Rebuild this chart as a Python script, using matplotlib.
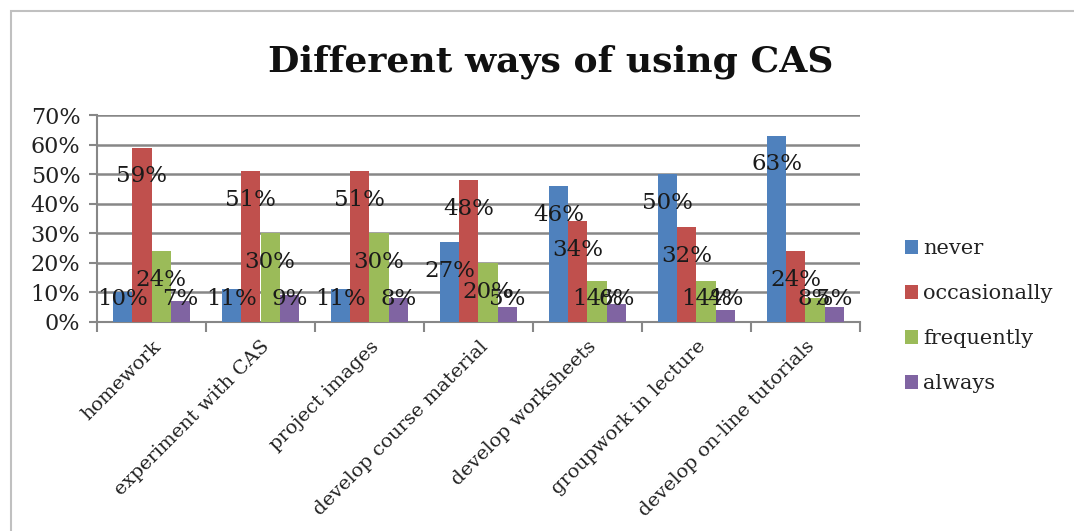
import numpy as np
import matplotlib
matplotlib.use('Agg')
from matplotlib import pyplot as plt
from matplotlib.patches import Rectangle

# data (percent)
categories = ['homework', 'experiment with CAS', 'project images',
              'develop course material', 'develop worksheets',
              'groupwork in lecture', 'develop on-line tutorials']
series = ['never', 'occasionally', 'frequently', 'always']
never = [10, 11, 11, 27, 46, 50, 63]
occasionally = [59, 51, 51, 48, 34, 32, 24]
frequently = [24, 30, 30, 20, 14, 14, 8]
always = [7, 9, 8, 5, 6, 4, 5]
yticks = [0, 10, 20, 30, 40, 50, 60, 70]

colors = ['#4F81BD', '#C0504D', '#9BBB59', '#8064A2']
plt.rcParams['font.family'] = ['DejaVu Serif']

fig = plt.figure(figsize=(10.74, 5.31), dpi=100)
fig.patches.append(Rectangle((11 / 1074, -0.05), 1.1, 1 - 11 / 531 + 0.05,
                             transform=fig.transFigure, fill=False,
                             edgecolor='#c0c0c0', linewidth=1.5))

ax = fig.add_axes([97 / 1074, 1 - 322 / 531, 763 / 1074, 207 / 531])

x = np.arange(len(categories))
w = 0.177
for i, (name, vals) in enumerate(zip(series, [never, occasionally, frequently, always])):
    pos = x + (i - 1.5) * w
    ax.bar(pos, vals, width=w, color=colors[i], label=name, zorder=3)
    # labels sit about 10 points under the bar top, but never below ~8%
    for p, v in zip(pos, vals):
        ax.text(p, max(v - 9.7, 7.7), '%d%%' % v, ha='center', va='center',
                fontsize=16.5, color='#1a1a1a', zorder=4)

ax.set_xlim(-0.5, len(categories) - 0.5)
ax.set_ylim(0, 70)
ax.set_yticks(yticks)
ax.set_yticklabels(['%d%%' % t for t in yticks], fontsize=16, color='#222222')
ax.set_xticks(x)
ax.set_xticklabels(categories, rotation=45, ha='right', rotation_mode='anchor',
                   fontsize=14, color='#222222')
ax.set_xticks(np.arange(len(categories) + 1) - 0.5, minor=True)
ax.tick_params(axis='x', which='major', length=0, pad=11)
ax.tick_params(axis='x', which='minor', length=7, color='#878787', width=1.5)
ax.tick_params(axis='y', length=6, color='#878787', width=1.5, pad=6)

ax.yaxis.grid(True, color='#878787', linewidth=1.8, zorder=0)
ax.set_axisbelow(True)
for s in ['top', 'right']:
    ax.spines[s].set_visible(False)
for s in ['left', 'bottom']:
    ax.spines[s].set_color('#878787')
    ax.spines[s].set_linewidth(1.5)

fig.text(551 / 1074, 1 - 62 / 531, 'Different ways of using CAS', ha='center',
         va='center', fontsize=26, fontweight='bold', color='#111111')

leg = ax.legend(loc='upper left', bbox_to_anchor=(1.035, 0.49), frameon=False,
                fontsize=15, handlelength=0.6, handleheight=0.6,
                handletextpad=0.25, labelspacing=1.25)
for t in leg.get_texts():
    t.set_color('#222222')

fig.savefig('out.png', dpi=100)
